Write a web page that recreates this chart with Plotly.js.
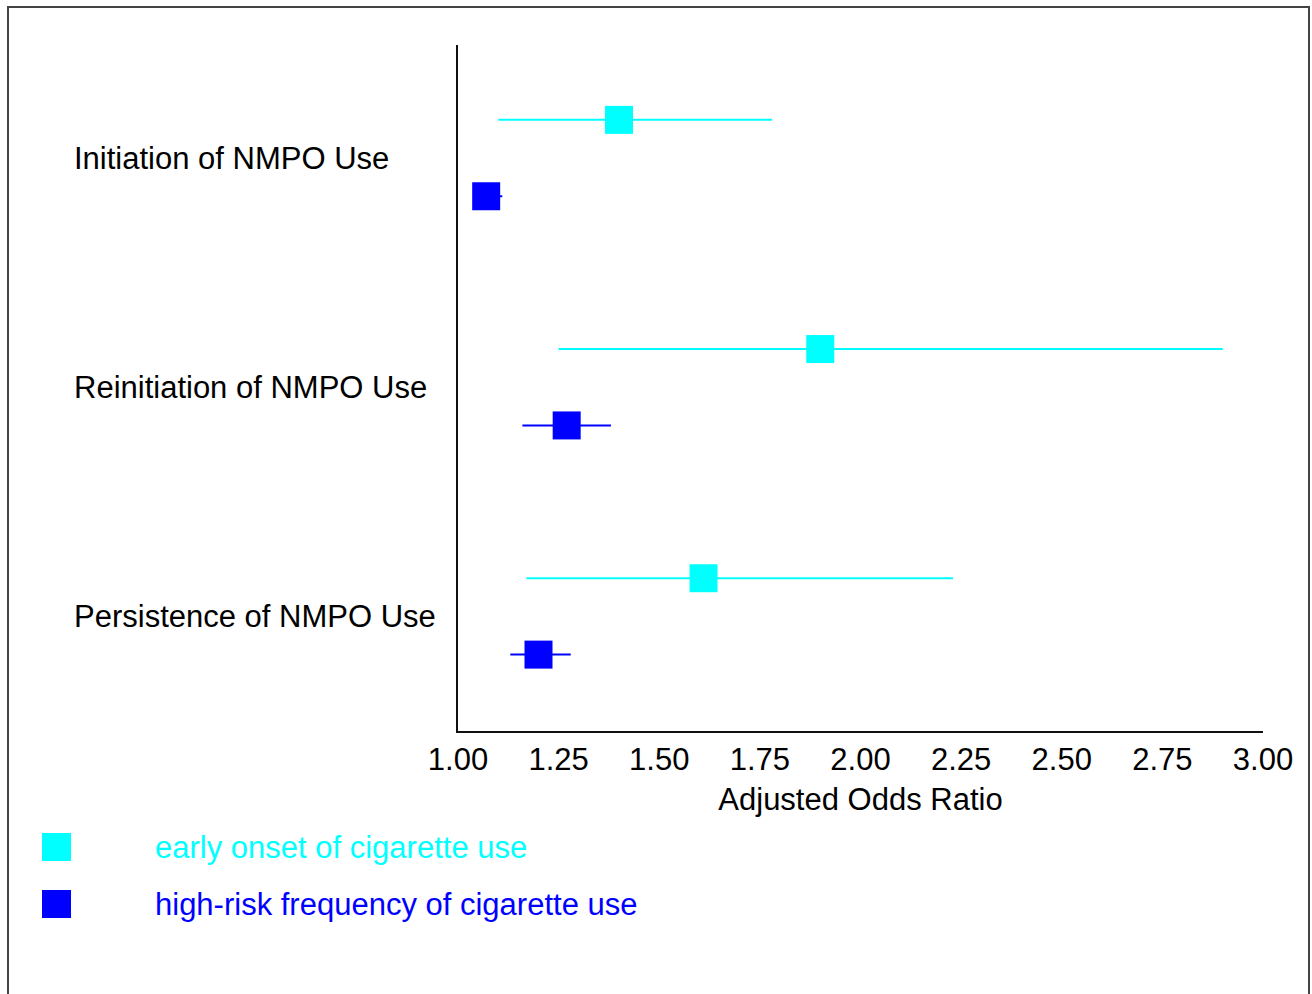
<!DOCTYPE html>
<html>
<head>
<meta charset="utf-8">
<script src="https://cdn.plot.ly/plotly-3.0.1.min.js"></script>
<style>
  html, body { margin: 0; padding: 0; background: #fff; }
  #chart { width: 1312px; height: 994px; }
</style>
</head>
<body>
<div id="chart"></div>
<script>
// ---- data ----
const outcomes = ["Initiation of NMPO Use", "Reinitiation of NMPO Use", "Persistence of NMPO Use"];
const seriesNames = ["early onset of cigarette use", "high-risk frequency of cigarette use"];
const earlyOR = [1.40, 1.90, 1.61];
const earlyLower = [1.10, 1.25, 1.17];
const earlyUpper = [1.78, 2.90, 2.23];
const highOR = [1.07, 1.27, 1.20];
const highLower = [1.04, 1.16, 1.13];
const highUpper = [1.11, 1.38, 1.28];
const xTicks = [1.00, 1.25, 1.50, 1.75, 2.00, 2.25, 2.50, 2.75, 3.00];
const xTitle = "Adjusted Odds Ratio";

// ---- styling ----
const colors = ["#00ffff", "#0000ff"];
const FONT = "Liberation Sans, Arial, sans-serif";
const FS = 31;

// row positions: early at 3i, high at 3i+1, label centered between
const yEarly = outcomes.map((_, i) => 3 * i);
const yHigh = outcomes.map((_, i) => 3 * i + 1);
const yLabel = outcomes.map((_, i) => 3 * i + 0.5);

function trace(vals, lo, hi, ys, color, name) {
  return {
    type: "scatter", mode: "markers", name: name,
    x: vals, y: ys,
    marker: { symbol: "square", size: 28, color: color, line: { width: 0 } },
    error_x: {
      type: "data", symmetric: false,
      array: vals.map((v, i) => hi[i] - v),
      arrayminus: vals.map((v, i) => v - lo[i]),
      color: color, thickness: 2, width: 0
    },
    showlegend: false, hoverinfo: "x+y"
  };
}

const data = [
  trace(earlyOR, earlyLower, earlyUpper, yEarly, colors[0], seriesNames[0]),
  trace(highOR, highLower, highUpper, yHigh, colors[1], seriesNames[1])
];

// plot area pixel geometry: x 458..1263, y 45..731
const L = 458, R = 1263, T = 45, B = 731;
const W = R - L, H = B - T;
const px = v => (v - L) / W;
const py = v => (B - v) / H;

const annotations = outcomes.map((t, i) => ({
  text: t, xref: "paper", yref: "y", x: px(72), y: yLabel[i],
  xanchor: "left", yanchor: "middle", showarrow: false,
  font: { family: FONT, size: FS, color: "#000" }
}));

const legendRows = [847, 904];
seriesNames.forEach((n, i) => {
  annotations.push({
    text: n, xref: "paper", yref: "paper", x: px(153), y: py(legendRows[i]),
    xanchor: "left", yanchor: "middle", showarrow: false,
    font: { family: FONT, size: FS, color: colors[i] }
  });
});

const shapes = [];
seriesNames.forEach((n, i) => {
  shapes.push({
    type: "rect", xref: "paper", yref: "paper",
    x0: px(42), x1: px(71), y0: py(legendRows[i] + 14), y1: py(legendRows[i] - 14),
    fillcolor: colors[i], line: { width: 0 }
  });
});
// outer frame
shapes.push({
  type: "rect", xref: "paper", yref: "paper",
  x0: px(8), x1: px(1309), y0: py(1010), y1: py(7),
  fillcolor: "rgba(0,0,0,0)", line: { color: "#444", width: 2 }
});

const layout = {
  width: 1312, height: 994,
  margin: { l: L, r: 1312 - R, t: T, b: 994 - B, pad: 0 },
  paper_bgcolor: "#fff", plot_bgcolor: "#fff",
  showlegend: false,
  font: { family: FONT, size: FS, color: "#000" },
  xaxis: {
    range: [1, 3], tickvals: xTicks, ticktext: xTicks.map(v => v.toFixed(2)),
    showgrid: false, zeroline: false, showline: true, linecolor: "#111", linewidth: 2,
    ticks: "", tickfont: { family: FONT, size: FS, color: "#000" },
    title: { text: xTitle, font: { family: FONT, size: FS, color: "#000" }, standoff: 12 }
  },
  yaxis: {
    range: [8.0, -0.98], showgrid: false, zeroline: false, showline: true,
    linecolor: "#111", linewidth: 2, showticklabels: false, ticks: ""
  },
  annotations: annotations,
  shapes: shapes
};

Plotly.newPlot("chart", data, layout, { displayModeBar: false, staticPlot: true });
</script>
</body>
</html>
